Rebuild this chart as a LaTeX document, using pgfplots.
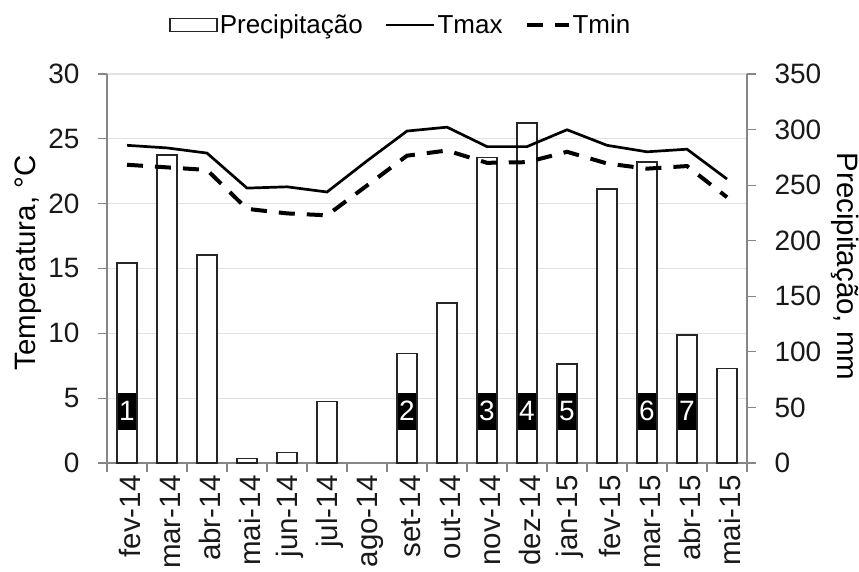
\documentclass[border=0pt]{standalone}
\usepackage{fontspec}
\setmainfont{Liberation Sans}
\usepackage{pgfplots}
\pgfplotsset{compat=1.18}

\definecolor{axgray}{HTML}{868686}
\definecolor{gridgray}{HTML}{E3E3E3}
\newcommand{\fs}{\fontsize{28}{33}\selectfont}
\newcommand{\fx}{\fontsize{29.5}{34}\selectfont}
\newcommand{\fl}{\fontsize{29.5}{34}\selectfont}

\tikzset{numbox/.style={fill=black, text=white, font=\fs, inner sep=0pt, minimum width=18pt, minimum height=37pt}}
\pgfplotsset{
  base/.style={
    scale only axis, width=640pt, height=389pt,
    at={(0,0)}, anchor=south west,
    xmin=-0.5, xmax=15.5,
    tick label style={font=\fs, text=black!90},
    label style={font=\fl},
    /pgf/number format/assume math mode=true,
    tick align=outside,
  },
  linelegA/.style={legend image code/.code={\draw[##1] (0pt,0pt) -- (48pt,0pt);}},
  linelegB/.style={legend image code/.code={\draw[##1] (0pt,0pt) -- (42pt,0pt);}},
  barleg/.style={legend image code/.code={\draw[black!85, line width=1.6pt, fill=white] (0pt,-6.5pt) rectangle (47pt,6.5pt);}},
}

\begin{document}
\begin{tikzpicture}
\useasboundingbox (-107pt,-108pt) rectangle (752pt,463pt);
% axis 1: temperature frame, grid, categories
\begin{axis}[base,
  ymin=0, ymax=30, ytick={0,5,...,30},
  axis y line*=left, axis x line*=bottom,
  axis line style={draw=axgray, line width=1.2pt, -},
  ymajorgrids, grid style={gridgray, line width=1.2pt},
  major tick length=9pt,
  ytick style={draw=axgray, line width=1.2pt},
  yticklabel style={xshift=-15pt},
  xtick={0,...,15},
  xticklabels={fev-14,mar-14,abr-14,mai-14,jun-14,jul-14,ago-14,set-14,out-14,nov-14,dez-14,jan-15,fev-15,mar-15,abr-15,mai-15},
  xticklabel style={rotate=90, anchor=east, font=\fx, yshift=-3pt},
  major x tick style={draw=none},
  minor xtick={-0.5,0.5,...,15.5},
  minor tick length=9pt,
  minor x tick style={draw=axgray, line width=1.2pt},
  ylabel={Temperatura, °C},
  ylabel style={at={(axis description cs:-0.1234,0.514)}, anchor=center},
]
\addplot[draw=none, forget plot] coordinates {(0,0)};
\end{axis}
% axis 2: precipitation bars, right axis
\begin{axis}[base,
  ymin=0, ymax=350, ytick={0,50,...,350},
  axis y line*=right, axis x line=none,
  axis line style={draw=axgray, line width=1.2pt, -},
  major tick length=9pt,
  ytick style={draw=axgray, line width=1.2pt},
  yticklabel style={xshift=15pt},
  ylabel={Precipitação, mm},
  ylabel style={at={(axis description cs:1.153,0.505)}, anchor=center, rotate=180},
]
% ago-14 has no precipitation (0 mm) and is not drawn
\addplot[ybar, bar width=20pt, draw=black!85, fill=white, line width=1.6pt] coordinates {
(0,180) (1,277) (2,187) (3,4.2) (4,9.3) (5,55.2) (7,98.7) (8,143.7)
(9,275) (10,306) (11,89) (12,246.6) (13,271) (14,115) (15,85)};
\end{axis}
% axis 3: temperature lines and labels
\begin{axis}[base,
  ymin=0, ymax=30, hide axis,
  legend style={at={(0.459,1.126)}, anchor=center, draw=none, fill=none,
    legend columns=3, font=\fontsize{26}{31}\selectfont,
    /tikz/every even column/.append style={column sep=20pt}},
]
\addlegendimage{barleg}
\addplot[black, line width=2.7pt, linelegA] coordinates {
(0,24.5) (1,24.3) (2,23.9) (3,21.2) (4,21.3) (5,20.9) (6,23.3) (7,25.6) (8,25.9)
(9,24.4) (10,24.4) (11,25.7) (12,24.5) (13,24.0) (14,24.2) (15,21.9)};
\addplot[black, line width=4pt, dash pattern=on 16pt off 12pt, linelegB] coordinates {
(0,23.0) (1,22.8) (2,22.6) (3,19.6) (4,19.25) (5,19.1) (6,21.4) (7,23.7) (8,24.1)
(9,23.15) (10,23.2) (11,24.0) (12,23.1) (13,22.7) (14,22.9) (15,20.5)};
\legend{Precipitação, Tmax, Tmin}
\node[numbox] at (axis cs:0,4) {1};
\node[numbox] at (axis cs:7,4) {2};
\node[numbox] at (axis cs:9,4) {3};
\node[numbox] at (axis cs:10,4) {4};
\node[numbox] at (axis cs:11,4) {5};
\node[numbox] at (axis cs:13,4) {6};
\node[numbox] at (axis cs:14,4) {7};
\end{axis}
\end{tikzpicture}
\end{document}
